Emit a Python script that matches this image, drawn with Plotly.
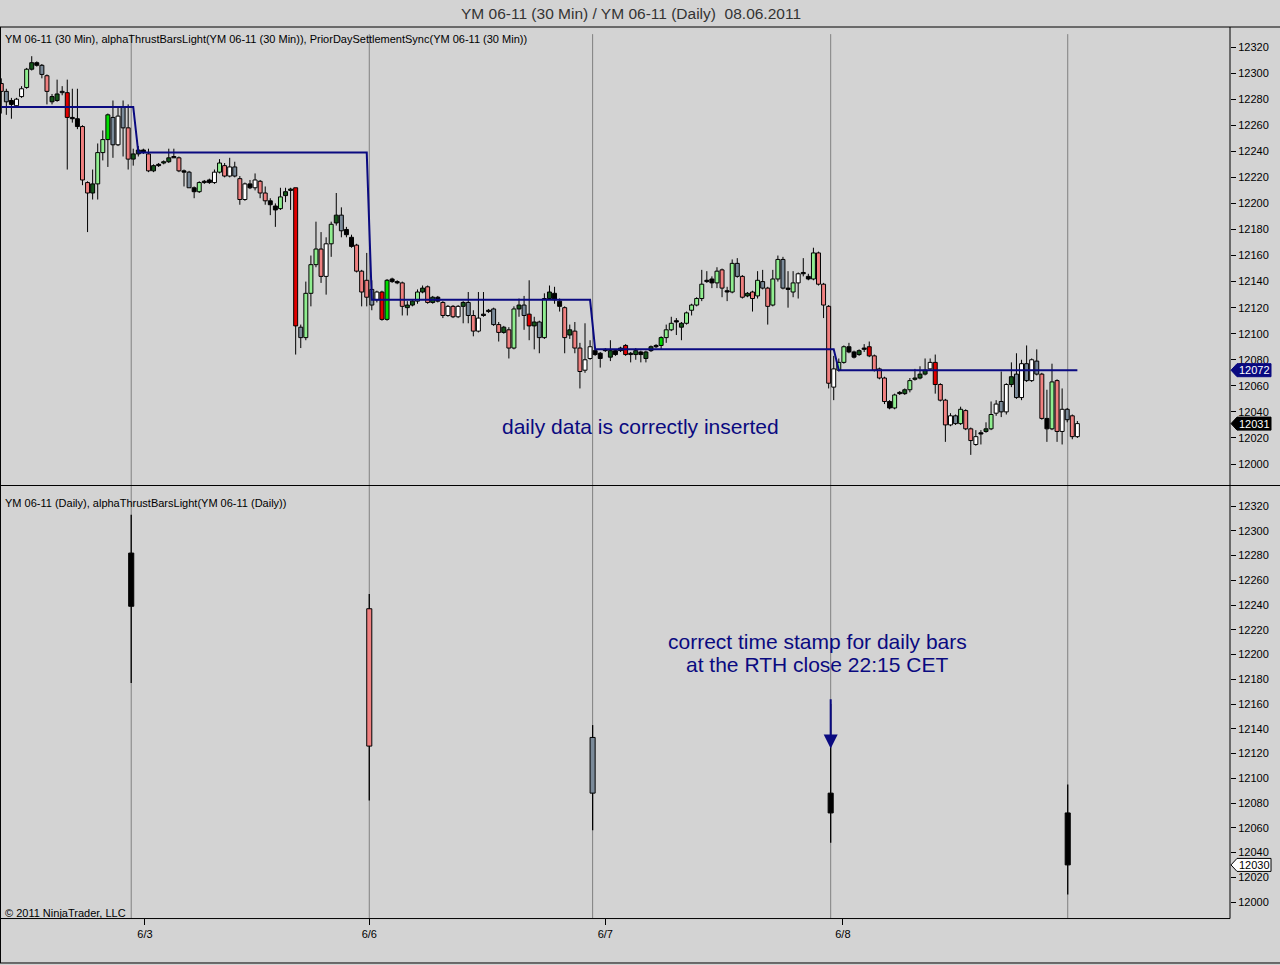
import plotly.graph_objects as go

# --- 30 min bars (YM 06-11) ---
open_30 = [
    12292, 12286, 12279, 12275, 12282, 12289, 12303, 12308, 12306, 12298,
    12278, 12279, 12286, 12285, 12266, 12265, 12259, 12216, 12208, 12215,
    12239, 12249, 12266, 12245, 12274, 12258, 12234, 12238, 12241, 12238,
    12225, 12230, 12231, 12232, 12236, 12235, 12225, 12224, 12212, 12209,
    12217, 12218, 12216, 12224, 12229, 12221, 12228, 12219, 12203, 12215,
    12212, 12217, 12208, 12202, 12198, 12196, 12206, 12210, 12212, 12105,
    12097, 12131, 12153, 12165, 12144, 12169, 12185, 12191, 12180, 12174,
    12168, 12148, 12141, 12134, 12126, 12132, 12111, 12142, 12140, 12139,
    12120, 12122, 12125, 12132, 12136, 12124, 12128, 12124, 12114, 12121,
    12113, 12121, 12124, 12114, 12102, 12115, 12118, 12119, 12107, 12101,
    12103, 12089, 12119, 12122, 12115, 12106, 12109, 12097, 12127, 12131,
    12125, 12120, 12099, 12102, 12089, 12072, 12081, 12087, 12085, 12088,
    12082, 12087, 12087, 12091, 12085, 12084, 12086, 12081, 12087, 12091,
    12091, 12097, 12103, 12110, 12105, 12108, 12118, 12122, 12127, 12141,
    12142, 12139, 12149, 12133, 12132, 12154, 12144, 12129, 12132, 12129,
    12140, 12135, 12122, 12142, 12157, 12135, 12132, 12139, 12147, 12144,
    12142, 12162, 12138, 12121, 12059, 12072, 12078, 12090, 12086, 12084,
    12089, 12090, 12083, 12073, 12066, 12048, 12043, 12055, 12054, 12057,
    12065, 12066, 12069, 12073, 12078, 12061, 12049, 12030, 12037, 12031,
    12041, 12027, 12015, 12023, 12025, 12027, 12039, 12048, 12040, 12061,
    12069, 12051, 12077, 12064, 12079, 12069, 12035, 12027, 12064, 12025,
    12042, 12037, 12021,
]
high_30 = [
    12296, 12288, 12281, 12281, 12290, 12304, 12313, 12309, 12307, 12299,
    12284, 12295, 12290, 12295, 12288, 12288, 12260, 12217, 12226, 12246,
    12256, 12269, 12279, 12274, 12279, 12276, 12242, 12244, 12242, 12242,
    12230, 12231, 12233, 12242, 12242, 12236, 12226, 12225, 12213, 12217,
    12218, 12219, 12226, 12234, 12231, 12235, 12232, 12221, 12216, 12218,
    12223, 12218, 12213, 12204, 12200, 12212, 12212, 12212, 12212, 12107,
    12140, 12160, 12186, 12178, 12174, 12186, 12208, 12197, 12182, 12176,
    12169, 12149, 12162, 12141, 12133, 12133, 12142, 12143, 12141, 12140,
    12125, 12126, 12134, 12137, 12137, 12129, 12129, 12125, 12122, 12122,
    12122, 12125, 12132, 12118, 12132, 12132, 12119, 12120, 12109, 12106,
    12105, 12121, 12127, 12129, 12141, 12113, 12110, 12131, 12137, 12136,
    12127, 12121, 12107, 12109, 12093, 12108, 12095, 12088, 12086, 12089,
    12095, 12088, 12090, 12092, 12086, 12089, 12087, 12087, 12091, 12092,
    12098, 12107, 12113, 12112, 12109, 12117, 12123, 12128, 12149, 12148,
    12144, 12151, 12150, 12136, 12157, 12158, 12145, 12132, 12133, 12148,
    12149, 12136, 12149, 12160, 12159, 12148, 12148, 12147, 12158, 12146,
    12166, 12163, 12139, 12122, 12083, 12081, 12091, 12093, 12087, 12088,
    12092, 12094, 12084, 12074, 12067, 12049, 12054, 12056, 12058, 12066,
    12073, 12075, 12081, 12081, 12084, 12062, 12050, 12039, 12038, 12044,
    12042, 12028, 12026, 12026, 12032, 12048, 12049, 12071, 12062, 12078,
    12085, 12080, 12091, 12081, 12088, 12070, 12057, 12077, 12065, 12058,
    12043, 12038, 12033,
]
low_30 = [
    12269, 12268, 12265, 12274, 12281, 12288, 12302, 12305, 12296, 12276,
    12276, 12278, 12283, 12226, 12262, 12257, 12214, 12178, 12203, 12203,
    12233, 12228, 12235, 12244, 12236, 12226, 12229, 12236, 12238, 12224,
    12224, 12228, 12230, 12231, 12235, 12224, 12213, 12212, 12204, 12208,
    12215, 12215, 12215, 12223, 12220, 12220, 12220, 12199, 12202, 12211,
    12210, 12204, 12199, 12191, 12182, 12195, 12201, 12195, 12084, 12089,
    12095, 12121, 12151, 12139, 12130, 12159, 12183, 12174, 12174, 12166,
    12147, 12121, 12121, 12118, 12124, 12110, 12110, 12139, 12138, 12114,
    12114, 12121, 12123, 12131, 12123, 12123, 12124, 12112, 12113, 12112,
    12112, 12108, 12108, 12098, 12101, 12113, 12116, 12106, 12094, 12100,
    12081, 12088, 12113, 12103, 12095, 12088, 12085, 12096, 12126, 12123,
    12117, 12085, 12096, 12085, 12058, 12070, 12080, 12083, 12074, 12086,
    12079, 12083, 12086, 12083, 12078, 12080, 12078, 12078, 12086, 12089,
    12088, 12093, 12102, 12099, 12095, 12107, 12114, 12121, 12125, 12139,
    12135, 12135, 12128, 12125, 12131, 12143, 12127, 12128, 12117, 12127,
    12134, 12107, 12121, 12140, 12134, 12120, 12128, 12127, 12144, 12141,
    12141, 12137, 12112, 12058, 12049, 12071, 12077, 12085, 12081, 12083,
    12086, 12082, 12071, 12065, 12046, 12042, 12042, 12053, 12053, 12055,
    12064, 12065, 12068, 12072, 12054, 12048, 12017, 12029, 12030, 12030,
    12026, 12007, 12014, 12015, 12024, 12026, 12037, 12036, 12038, 12059,
    12050, 12049, 12063, 12063, 12068, 12034, 12017, 12026, 12017, 12015,
    12032, 12019, 12020,
]
close_30 = [
    12286, 12278, 12276, 12280, 12288, 12303, 12308, 12306, 12299, 12286,
    12282, 12284, 12285, 12266, 12265, 12259, 12218, 12208, 12215, 12239,
    12249, 12268, 12245, 12267, 12258, 12234, 12238, 12241, 12239, 12225,
    12229, 12229, 12232, 12235, 12235, 12225, 12224, 12212, 12209, 12216,
    12216, 12216, 12224, 12231, 12221, 12228, 12221, 12203, 12215, 12212,
    12218, 12208, 12202, 12199, 12195, 12205, 12209, 12211, 12106, 12097,
    12131, 12153, 12165, 12144, 12169, 12184, 12191, 12179, 12176, 12167,
    12148, 12132, 12128, 12122, 12132, 12111, 12141, 12140, 12139, 12121,
    12122, 12125, 12132, 12135, 12124, 12128, 12125, 12114, 12121, 12113,
    12121, 12124, 12114, 12102, 12112, 12114, 12117, 12107, 12101, 12105,
    12089, 12119, 12122, 12114, 12106, 12109, 12097, 12127, 12132, 12126,
    12121, 12097, 12103, 12089, 12071, 12080, 12090, 12084, 12081, 12087,
    12087, 12084, 12089, 12084, 12084, 12087, 12084, 12086, 12090, 12090,
    12097, 12103, 12108, 12109, 12108, 12116, 12122, 12127, 12138, 12140,
    12139, 12148, 12135, 12132, 12154, 12144, 12128, 12131, 12127, 12141,
    12135, 12121, 12142, 12157, 12135, 12134, 12139, 12146, 12146, 12142,
    12162, 12138, 12122, 12062, 12073, 12078, 12090, 12086, 12082, 12087,
    12088, 12083, 12072, 12066, 12048, 12043, 12053, 12054, 12057, 12064,
    12066, 12069, 12072, 12078, 12061, 12049, 12030, 12037, 12031, 12042,
    12027, 12018, 12021, 12024, 12027, 12038, 12046, 12040, 12061, 12067,
    12051, 12077, 12064, 12080, 12069, 12035, 12027, 12063, 12025, 12042,
    12034, 12021, 12031,
]
# alphaThrustBarsLight paint codes per bar
paint_30 = [
    'sa', 'gr', 'bk', 'wh', 'wh', 'lg', 'dg', 'bk', 'gr', 'sa',
    'dg', 'dg', 'gr', 'rd', 'bk', 'bk', 'sa', 'sa', 'dg', 'lg',
    'lg', 'bg', 'gr', 'wh', 'gr', 'sa', 'dg', 'dg', 'bk', 'sa',
    'dg', 'bk', 'dg', 'dg', 'bk', 'sa', 'bk', 'gr', 'bk', 'lg',
    'bk', 'bk', 'wh', 'lg', 'sa', 'wh', 'gr', 'sa', 'wh', 'bk',
    'wh', 'sa', 'sa', 'bk', 'bk', 'lg', 'dg', 'dg', 'rd', 'gr',
    'lg', 'lg', 'lg', 'sa', 'wh', 'lg', 'dg', 'gr', 'bk', 'bk',
    'sa', 'sa', 'sa', 'gr', 'wh', 'rd', 'bg', 'bk', 'bk', 'sa',
    'dg', 'dg', 'lg', 'dg', 'sa', 'dg', 'bk', 'sa', 'wh', 'sa',
    'wh', 'dg', 'gr', 'sa', 'wh', 'bk', 'bk', 'gr', 'sa', 'dg',
    'sa', 'lg', 'dg', 'gr', 'rd', 'dg', 'gr', 'lg', 'dg', 'bk',
    'bk', 'sa', 'dg', 'sa', 'sa', 'wh', 'wh', 'bk', 'bk', 'bk',
    'dg', 'bk', 'dg', 'rd', 'bk', 'dg', 'bk', 'dg', 'dg', 'bk',
    'bg', 'lg', 'lg', 'bk', 'dg', 'lg', 'lg', 'lg', 'lg', 'bk',
    'bk', 'lg', 'sa', 'bk', 'lg', 'gr', 'sa', 'dg', 'sa', 'lg',
    'gr', 'sa', 'lg', 'lg', 'gr', 'bk', 'lg', 'wh', 'bk', 'bk',
    'lg', 'sa', 'sa', 'sa', 'wh', 'lg', 'lg', 'bk', 'bk', 'dg',
    'bk', 'rd', 'sa', 'sa', 'sa', 'bk', 'lg', 'bk', 'dg', 'lg',
    'dg', 'dg', 'dg', 'wh', 'rd', 'sa', 'sa', 'wh', 'gr', 'lg',
    'sa', 'sa', 'wh', 'bk', 'dg', 'lg', 'wh', 'gr', 'wh', 'dg',
    'gr', 'wh', 'gr', 'wh', 'gr', 'sa', 'bk', 'lg', 'sa', 'wh',
    'gr', 'sa', 'wh',
]

# PriorDaySettlementSync: level and the 30 min bar where it starts
settle_levels = [12274, 12239, 12126, 12088, 12072]
settle_first_bar = [0, 27, 73, 117, 165]

# --- daily bars (YM 06-11 Daily) ---
daily_dates = ['6/2', '6/3', '6/6', '6/7', '6/8']
daily_open = [12282, 12237, 12133, 12088, 12072]
daily_high = [12313, 12249, 12143, 12160, 12095]
daily_low = [12177, 12082, 12058, 12048, 12006]
daily_close = [12239, 12126, 12088, 12072, 12030]
daily_paint = ['bk', 'sa', 'gr', 'bk', 'bk']
daily_bar_slot = [25.6, 72.5, 116.5, 163.4, 210.1]   # 30 min slot of the 22:15 close

date_tick_slot = [28.3, 72.5, 119, 165.8]
date_tick_text = ['6/3', '6/6', '6/7', '6/8']

PAINT = {
    'sa': '#F08080', 'lg': '#90EE90', 'dg': '#14561A', 'gr': '#7A8A99',
    'wh': '#FFFFFF', 'bk': '#000000', 'rd': '#E00000', 'bg': '#00DD00',
}
NAVY = '#0A0A80'
BG = '#D3D3D3'
FONT = 'Liberation Sans, Arial, sans-serif'


def wick_segments(xs, o, h, l, c):
    wx, wy = [], []
    for x, op, hi, lo, cl in zip(xs, o, h, l, c):
        top, bot = max(op, cl), min(op, cl)
        wx += [x, x, None, x, x, None]
        wy += [hi, top, None, bot, lo, None]
    return wx, wy


bars = list(range(len(close_30)))

settle = []
for i in bars:
    k = max(j for j, s in enumerate(settle_first_bar) if s <= i)
    settle.append(settle_levels[k])

fig = go.Figure()

wx, wy = wick_segments(bars, open_30, high_30, low_30, close_30)
fig.add_trace(go.Scatter(x=wx, y=wy, mode='lines', line=dict(color='black', width=1),
                         xaxis='x', yaxis='y', hoverinfo='skip'))
fig.add_trace(go.Bar(
    x=bars,
    y=[abs(c - o) for o, c in zip(open_30, close_30)],
    base=[min(o, c) for o, c in zip(open_30, close_30)],
    width=0.78,
    marker=dict(color=[PAINT[p] for p in paint_30], line=dict(color='black', width=1)),
    xaxis='x', yaxis='y',
))
fig.add_trace(go.Scatter(x=bars, y=settle, mode='lines', line=dict(color=NAVY, width=2),
                         xaxis='x', yaxis='y'))

dwx, dwy = wick_segments(daily_bar_slot, daily_open, daily_high, daily_low, daily_close)
fig.add_trace(go.Scatter(x=dwx, y=dwy, mode='lines', line=dict(color='black', width=1.3),
                         xaxis='x2', yaxis='y2', hoverinfo='skip'))
fig.add_trace(go.Bar(
    x=daily_bar_slot,
    y=[abs(c - o) for o, c in zip(daily_open, daily_close)],
    base=[min(o, c) for o, c in zip(daily_open, daily_close)],
    width=1.0,
    marker=dict(color=[PAINT[p] for p in daily_paint], line=dict(color='black', width=1)),
    xaxis='x2', yaxis='y2',
))

# pixel calibration of the two panels (plot area 0..1230 x 27..918 px)
x_range = [-0.25, 242.07]
top_range = [11983.5, 12335.4]
bot_range = [11987.1, 12335.8]

yax = dict(side='right', dtick=20, tick0=12000, tickformat='d', ticks='outside', ticklen=5,
           tickcolor='black', tickfont=dict(family=FONT, size=11, color='black'),
           showgrid=False, zeroline=False, showline=False, fixedrange=True)

fig.update_layout(
    width=1280, height=965, autosize=False,
    margin=dict(l=0, r=50, t=27, b=47),
    paper_bgcolor=BG, plot_bgcolor=BG,
    showlegend=False, barmode='overlay', hovermode=False,
    xaxis=dict(domain=[0, 1], anchor='y', range=x_range, showticklabels=False, ticks='',
               showgrid=False, zeroline=False, showline=False),
    xaxis2=dict(domain=[0, 1], anchor='y2', matches='x', range=x_range,
                tickvals=date_tick_slot, ticktext=date_tick_text, ticks='outside', ticklen=6,
                tickcolor='black', tickfont=dict(family=FONT, size=11, color='black'),
                showgrid=False, zeroline=False, showline=False),
    yaxis=dict(domain=[0.4854, 1.0], anchor='x', range=top_range, **yax),
    yaxis2=dict(domain=[0.0, 0.4843], anchor='x2', range=bot_range, **yax),
)

shapes = []
for s in daily_bar_slot:
    shapes.append(dict(type='line', xref='x', yref='paper', x0=s, x1=s, y0=0, y1=0.992,
                       line=dict(color='#808080', width=1), layer='below'))
frame = [
    (-0.01, 1.0, 1.05, 1.0),
    (-0.01, 0.4854, 1.05, 0.4854),
    (0.0, -0.0006, 1.0, -0.0006),
    (-0.01, -0.0505, 1.05, -0.0505),
    (1.0, -0.0006, 1.0, 1.0),
    (0.0004, -0.0505, 0.0004, 1.0),
]
for x0, y0, x1, y1 in frame:
    shapes.append(dict(type='line', xref='paper', yref='paper', x0=x0, y0=y0, x1=x1, y1=y1,
                       line=dict(color='black', width=1)))


def price_marker(value, yref, px_per_pt, fill, text_color, border=None):
    h = 6.5 / px_per_pt
    xt, x1, x2 = 1231 / 1230, 1237 / 1230, 1271 / 1230
    path = (f'M {xt} {value} L {x1} {value + h} L {x2} {value + h} '
            f'L {x2} {value - h} L {x1} {value - h} Z')
    shapes.append(dict(type='path', path=path, xref='paper', yref=yref, fillcolor=fill,
                       line=dict(color=border or fill, width=1), layer='above'))
    return dict(x=(x1 + x2) / 2 + 0.0008, y=value, xref='paper', yref=yref, text=str(value),
                showarrow=False, font=dict(family=FONT, size=11, color=text_color),
                xanchor='center', yanchor='middle')


annotations = [
    price_marker(settle[-1], 'y', 1.3031, NAVY, 'white'),
    price_marker(close_30[-1], 'y', 1.3031, 'black', 'white'),
    price_marker(daily_close[-1], 'y2', 1.2375, 'white', 'black', border='black'),
    dict(x=631 / 1230, y=1.0157, xref='paper', yref='paper', showarrow=False,
         text='YM 06-11 (30 Min) / YM 06-11 (Daily)  08.06.2011',
         font=dict(family=FONT, size=15.5, color='#333333'), xanchor='center', yanchor='middle'),
    dict(x=0.0024, y=0.9865, xref='paper', yref='paper', showarrow=False, xanchor='left',
         yanchor='middle', font=dict(family=FONT, size=11, color='black'),
         text='YM 06-11 (30 Min), alphaThrustBarsLight(YM 06-11 (30 Min)), '
              'PriorDaySettlementSync(YM 06-11 (30 Min))'),
    dict(x=0.0024, y=0.4658, xref='paper', yref='paper', showarrow=False, xanchor='left',
         yanchor='middle', font=dict(family=FONT, size=11, color='black'),
         text='YM 06-11 (Daily), alphaThrustBarsLight(YM 06-11 (Daily))'),
    dict(x=0.0024, y=0.0056, xref='paper', yref='paper', showarrow=False, xanchor='left',
         yanchor='middle', font=dict(family=FONT, size=11, color='black'),
         text='© 2011 NinjaTrader, LLC'),
    dict(x=640 / 1230, y=0.5511, xref='paper', yref='paper', showarrow=False,
         text='daily data is correctly inserted',
         font=dict(family=FONT, size=21, color=NAVY), xanchor='center', yanchor='middle'),
    dict(x=817 / 1230, y=0.3101, xref='paper', yref='paper', showarrow=False,
         text='correct time stamp for daily bars',
         font=dict(family=FONT, size=21, color=NAVY), xanchor='center', yanchor='middle'),
    dict(x=817 / 1230, y=0.2840, xref='paper', yref='paper', showarrow=False,
         text='at the RTH close 22:15 CET',
         font=dict(family=FONT, size=21, color=NAVY), xanchor='center', yanchor='middle'),
    dict(x=daily_bar_slot[3], y=12124, xref='x2', yref='y2',
         ax=daily_bar_slot[3], ay=12165, axref='x2', ayref='y2',
         showarrow=True, arrowhead=2, arrowsize=1.4, arrowwidth=2, arrowcolor=NAVY, text=''),
]

fig.update_layout(shapes=shapes, annotations=annotations)

# the page body has a default 8px margin; drop it so the chart sits at the window corner
fig.write_html('out.html', config={'displayModeBar': False},
               post_script="document.body.style.margin = '0';")
